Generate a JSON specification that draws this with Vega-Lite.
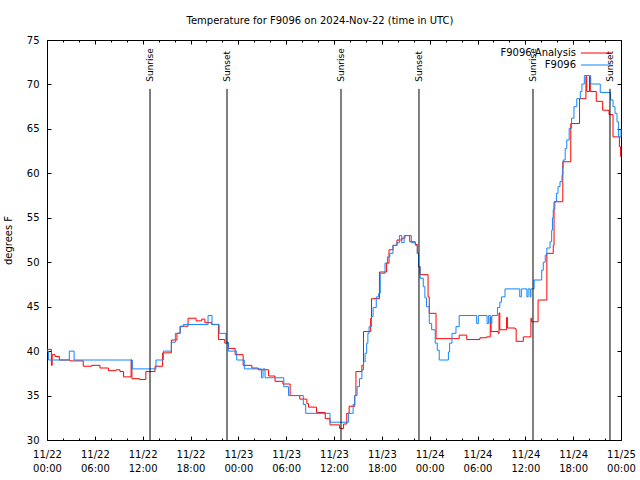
{
"$schema": "https://vega.github.io/schema/vega-lite/v6.json",
"width": 574, "height": 400,
"autosize": {"type": "none"},
"padding": {"left": 47, "top": 40, "right": 19, "bottom": 40},
"background": "white",
"config": {
  "font": "DejaVu Sans",
  "view": {"stroke": "black", "strokeWidth": 1},
  "axis": {"labelFont": "DejaVu Sans", "labelFontSize": 10, "labelColor": "black", "tickColor": "black", "tickWidth": 1, "domain": false, "grid": false, "titleFont": "DejaVu Sans", "titleFontSize": 10, "titleFontWeight": "normal", "titleColor": "black", "labelOverlap": false, "labelFlush": false, "labelBound": false}
},
"title": {"text": "Temperature for F9096 on 2024-Nov-22 (time in UTC)", "font": "DejaVu Sans", "fontSize": 10, "fontWeight": "normal", "color": "black", "anchor": "middle", "dx": -14, "offset": 1, "baseline": "alphabetic"},
"datasets": {
  "temp": [
    {"h":0,"t":40.2,"s":"F9096 Analysis"},{"h":0.55,"t":38.4,"s":"F9096 Analysis"},{"h":0.65,"t":39.6,"s":"F9096 Analysis"},{"h":1.0,"t":39.4,"s":"F9096 Analysis"},{"h":1.55,"t":39.0,"s":"F9096 Analysis"},{"h":2.9,"t":38.9,"s":"F9096 Analysis"},{"h":4.55,"t":38.3,"s":"F9096 Analysis"},{"h":5.6,"t":38.4,"s":"F9096 Analysis"},{"h":6.65,"t":38.1,"s":"F9096 Analysis"},{"h":7.7,"t":37.8,"s":"F9096 Analysis"},{"h":8.65,"t":37.9,"s":"F9096 Analysis"},{"h":9.15,"t":37.7,"s":"F9096 Analysis"},{"h":9.6,"t":37.1,"s":"F9096 Analysis"},{"h":10.55,"t":39.0,"s":"F9096 Analysis"},{"h":10.65,"t":36.9,"s":"F9096 Analysis"},{"h":11.6,"t":36.8,"s":"F9096 Analysis"},{"h":12.4,"t":37.7,"s":"F9096 Analysis"},{"h":13.55,"t":38.3,"s":"F9096 Analysis"},{"h":14.5,"t":39.8,"s":"F9096 Analysis"},{"h":15.6,"t":41.25,"s":"F9096 Analysis"},{"h":16.3,"t":42.0,"s":"F9096 Analysis"},{"h":16.7,"t":42.8,"s":"F9096 Analysis"},{"h":17.7,"t":43.7,"s":"F9096 Analysis"},{"h":18.7,"t":43.4,"s":"F9096 Analysis"},{"h":19.4,"t":43.6,"s":"F9096 Analysis"},{"h":19.8,"t":43.2,"s":"F9096 Analysis"},{"h":20.65,"t":43.0,"s":"F9096 Analysis"},{"h":21.5,"t":41.3,"s":"F9096 Analysis"},{"h":22.3,"t":40.9,"s":"F9096 Analysis"},{"h":22.75,"t":40.3,"s":"F9096 Analysis"},{"h":23.6,"t":39.6,"s":"F9096 Analysis"},{"h":24.6,"t":38.4,"s":"F9096 Analysis"},{"h":25.7,"t":38.1,"s":"F9096 Analysis"},{"h":26.5,"t":37.9,"s":"F9096 Analysis"},{"h":27.8,"t":37.2,"s":"F9096 Analysis"},{"h":28.6,"t":36.6,"s":"F9096 Analysis"},{"h":29.6,"t":36.3,"s":"F9096 Analysis"},{"h":30.5,"t":35.0,"s":"F9096 Analysis"},{"h":31.7,"t":34.6,"s":"F9096 Analysis"},{"h":32.6,"t":34.1,"s":"F9096 Analysis"},{"h":32.8,"t":33.7,"s":"F9096 Analysis"},{"h":33.8,"t":33.1,"s":"F9096 Analysis"},{"h":34.9,"t":32.4,"s":"F9096 Analysis"},{"h":35.5,"t":31.7,"s":"F9096 Analysis"},{"h":36.7,"t":31.3,"s":"F9096 Analysis"},{"h":37.2,"t":31.8,"s":"F9096 Analysis"},{"h":37.6,"t":33.0,"s":"F9096 Analysis"},{"h":37.9,"t":33.8,"s":"F9096 Analysis"},{"h":38.6,"t":35.0,"s":"F9096 Analysis"},{"h":38.75,"t":37.7,"s":"F9096 Analysis"},{"h":39.5,"t":38.4,"s":"F9096 Analysis"},{"h":39.7,"t":42.2,"s":"F9096 Analysis"},{"h":40.6,"t":43.7,"s":"F9096 Analysis"},{"h":40.7,"t":45.9,"s":"F9096 Analysis"},{"h":41.7,"t":48.9,"s":"F9096 Analysis"},{"h":42.6,"t":49.9,"s":"F9096 Analysis"},{"h":42.9,"t":51.4,"s":"F9096 Analysis"},{"h":43.4,"t":51.9,"s":"F9096 Analysis"},{"h":43.9,"t":52.5,"s":"F9096 Analysis"},{"h":44.5,"t":52.7,"s":"F9096 Analysis"},{"h":44.9,"t":53.0,"s":"F9096 Analysis"},{"h":45.5,"t":52.3,"s":"F9096 Analysis"},{"h":46.2,"t":52.0,"s":"F9096 Analysis"},{"h":46.45,"t":51.0,"s":"F9096 Analysis"},{"h":46.6,"t":49.5,"s":"F9096 Analysis"},{"h":46.8,"t":48.6,"s":"F9096 Analysis"},{"h":47.8,"t":46.1,"s":"F9096 Analysis"},{"h":47.95,"t":44.25,"s":"F9096 Analysis"},{"h":48.8,"t":41.4,"s":"F9096 Analysis"},{"h":51.7,"t":41.8,"s":"F9096 Analysis"},{"h":52.65,"t":41.3,"s":"F9096 Analysis"},{"h":54.3,"t":41.5,"s":"F9096 Analysis"},{"h":55.15,"t":41.6,"s":"F9096 Analysis"},{"h":55.6,"t":43.8,"s":"F9096 Analysis"},{"h":55.7,"t":42.2,"s":"F9096 Analysis"},{"h":56.6,"t":42.0,"s":"F9096 Analysis"},{"h":56.7,"t":44.3,"s":"F9096 Analysis"},{"h":56.8,"t":42.4,"s":"F9096 Analysis"},{"h":57.65,"t":43.8,"s":"F9096 Analysis"},{"h":57.75,"t":42.6,"s":"F9096 Analysis"},{"h":58.7,"t":42.5,"s":"F9096 Analysis"},{"h":58.85,"t":41.1,"s":"F9096 Analysis"},{"h":59.75,"t":41.6,"s":"F9096 Analysis"},{"h":60.7,"t":43.7,"s":"F9096 Analysis"},{"h":60.8,"t":43.3,"s":"F9096 Analysis"},{"h":61.6,"t":45.75,"s":"F9096 Analysis"},{"h":62.7,"t":51.0,"s":"F9096 Analysis"},{"h":63.5,"t":51.9,"s":"F9096 Analysis"},{"h":63.6,"t":56.8,"s":"F9096 Analysis"},{"h":64.7,"t":61.3,"s":"F9096 Analysis"},{"h":65.7,"t":65.6,"s":"F9096 Analysis"},{"h":66.8,"t":68.4,"s":"F9096 Analysis"},{"h":67.6,"t":70.9,"s":"F9096 Analysis"},{"h":67.7,"t":69.2,"s":"F9096 Analysis"},{"h":68.05,"t":70.9,"s":"F9096 Analysis"},{"h":68.15,"t":69.2,"s":"F9096 Analysis"},{"h":68.9,"t":68.1,"s":"F9096 Analysis"},{"h":69.7,"t":67.1,"s":"F9096 Analysis"},{"h":70.5,"t":66.6,"s":"F9096 Analysis"},{"h":71.0,"t":64.1,"s":"F9096 Analysis"},{"h":71.8,"t":63.0,"s":"F9096 Analysis"},{"h":71.95,"t":61.9,"s":"F9096 Analysis"},{"h":72,"t":61.9,"s":"F9096 Analysis"},
    {"h":0,"t":40.0,"s":"F9096"},{"h":0.2,"t":39.0,"s":"F9096"},{"h":2.8,"t":40.0,"s":"F9096"},{"h":3.4,"t":39.0,"s":"F9096"},{"h":10.7,"t":38.0,"s":"F9096"},{"h":13.67,"t":39.0,"s":"F9096"},{"h":14.6,"t":40.0,"s":"F9096"},{"h":15.6,"t":41.0,"s":"F9096"},{"h":16.1,"t":42.0,"s":"F9096"},{"h":16.7,"t":42.75,"s":"F9096"},{"h":17.1,"t":43.0,"s":"F9096"},{"h":20.2,"t":44.0,"s":"F9096"},{"h":20.7,"t":43.0,"s":"F9096"},{"h":21.6,"t":42.0,"s":"F9096"},{"h":22.45,"t":41.0,"s":"F9096"},{"h":22.75,"t":40.0,"s":"F9096"},{"h":23.8,"t":39.0,"s":"F9096"},{"h":24.75,"t":38.0,"s":"F9096"},{"h":26.9,"t":37.0,"s":"F9096"},{"h":27.1,"t":38.0,"s":"F9096"},{"h":27.35,"t":37.0,"s":"F9096"},{"h":29.7,"t":36.0,"s":"F9096"},{"h":30.3,"t":35.0,"s":"F9096"},{"h":32.15,"t":34.0,"s":"F9096"},{"h":32.45,"t":33.0,"s":"F9096"},{"h":35.5,"t":32.0,"s":"F9096"},{"h":37.8,"t":33.0,"s":"F9096"},{"h":38.4,"t":34.0,"s":"F9096"},{"h":38.6,"t":35.0,"s":"F9096"},{"h":38.9,"t":36.0,"s":"F9096"},{"h":39.2,"t":36.9,"s":"F9096"},{"h":39.5,"t":37.9,"s":"F9096"},{"h":39.7,"t":38.8,"s":"F9096"},{"h":39.9,"t":39.75,"s":"F9096"},{"h":40.1,"t":40.9,"s":"F9096"},{"h":40.25,"t":42.0,"s":"F9096"},{"h":40.4,"t":42.75,"s":"F9096"},{"h":40.7,"t":43.9,"s":"F9096"},{"h":40.9,"t":44.9,"s":"F9096"},{"h":41.3,"t":46.1,"s":"F9096"},{"h":41.6,"t":46.5,"s":"F9096"},{"h":41.8,"t":48.75,"s":"F9096"},{"h":42.4,"t":49.9,"s":"F9096"},{"h":42.7,"t":50.6,"s":"F9096"},{"h":43.0,"t":51.0,"s":"F9096"},{"h":43.4,"t":51.9,"s":"F9096"},{"h":43.9,"t":52.2,"s":"F9096"},{"h":44.2,"t":53.0,"s":"F9096"},{"h":44.5,"t":52.2,"s":"F9096"},{"h":44.8,"t":53.0,"s":"F9096"},{"h":45.7,"t":52.2,"s":"F9096"},{"h":46.2,"t":51.9,"s":"F9096"},{"h":46.45,"t":51.0,"s":"F9096"},{"h":46.6,"t":49.5,"s":"F9096"},{"h":46.8,"t":48.2,"s":"F9096"},{"h":47.2,"t":47.25,"s":"F9096"},{"h":47.4,"t":46.0,"s":"F9096"},{"h":47.6,"t":45.0,"s":"F9096"},{"h":47.95,"t":43.1,"s":"F9096"},{"h":48.25,"t":42.4,"s":"F9096"},{"h":48.7,"t":40.9,"s":"F9096"},{"h":48.95,"t":40.1,"s":"F9096"},{"h":49.2,"t":39.0,"s":"F9096"},{"h":50.35,"t":39.9,"s":"F9096"},{"h":50.5,"t":40.9,"s":"F9096"},{"h":50.8,"t":42.0,"s":"F9096"},{"h":51.3,"t":42.75,"s":"F9096"},{"h":51.7,"t":44.0,"s":"F9096"},{"h":53.9,"t":43.1,"s":"F9096"},{"h":54.1,"t":44.0,"s":"F9096"},{"h":55.2,"t":43.1,"s":"F9096"},{"h":55.4,"t":44.0,"s":"F9096"},{"h":55.6,"t":43.1,"s":"F9096"},{"h":55.8,"t":44.0,"s":"F9096"},{"h":56.5,"t":44.9,"s":"F9096"},{"h":56.8,"t":45.5,"s":"F9096"},{"h":57.0,"t":46.1,"s":"F9096"},{"h":57.45,"t":47.0,"s":"F9096"},{"h":59.3,"t":46.1,"s":"F9096"},{"h":59.5,"t":47.0,"s":"F9096"},{"h":60.2,"t":46.1,"s":"F9096"},{"h":60.35,"t":47.0,"s":"F9096"},{"h":60.6,"t":46.1,"s":"F9096"},{"h":60.7,"t":47.0,"s":"F9096"},{"h":61.1,"t":48.0,"s":"F9096"},{"h":62.05,"t":49.1,"s":"F9096"},{"h":62.25,"t":50.0,"s":"F9096"},{"h":62.5,"t":50.8,"s":"F9096"},{"h":62.7,"t":51.6,"s":"F9096"},{"h":63.1,"t":52.3,"s":"F9096"},{"h":63.3,"t":53.6,"s":"F9096"},{"h":63.4,"t":55.0,"s":"F9096"},{"h":63.5,"t":55.9,"s":"F9096"},{"h":63.7,"t":56.8,"s":"F9096"},{"h":63.9,"t":57.75,"s":"F9096"},{"h":64.1,"t":58.5,"s":"F9096"},{"h":64.35,"t":59.06,"s":"F9096"},{"h":64.6,"t":59.8,"s":"F9096"},{"h":64.7,"t":60.6,"s":"F9096"},{"h":64.75,"t":61.5,"s":"F9096"},{"h":65.0,"t":62.8,"s":"F9096"},{"h":65.2,"t":63.75,"s":"F9096"},{"h":65.5,"t":65.06,"s":"F9096"},{"h":65.8,"t":66.2,"s":"F9096"},{"h":66.1,"t":67.5,"s":"F9096"},{"h":66.45,"t":68.4,"s":"F9096"},{"h":66.9,"t":69.2,"s":"F9096"},{"h":67.1,"t":70.05,"s":"F9096"},{"h":67.4,"t":71.0,"s":"F9096"},{"h":68.2,"t":70.05,"s":"F9096"},{"h":69.4,"t":69.1,"s":"F9096"},{"h":70.7,"t":68.25,"s":"F9096"},{"h":71.0,"t":67.5,"s":"F9096"},{"h":71.25,"t":66.75,"s":"F9096"},{"h":71.5,"t":65.8,"s":"F9096"},{"h":71.7,"t":64.1,"s":"F9096"},{"h":72,"t":65.0,"s":"F9096"}
  ],
  "sun": [
    {"h":12.92,"ev":"Sunrise"},{"h":22.58,"ev":"Sunset"},{"h":36.88,"ev":"Sunrise"},{"h":46.66,"ev":"Sunset"},{"h":60.96,"ev":"Sunrise"},{"h":70.62,"ev":"Sunset"}
  ]
},
"layer": [
  {
    "data": {"name": "temp"},
    "transform": [{"filter": "datum.s == 'F9096 Analysis'"}],
    "mark": {"type": "line", "interpolate": "step-after", "strokeWidth": 1},
    "encoding": {
      "x": {"field": "h", "type": "quantitative", "scale": {"domain": [0, 72], "nice": false, "zero": false},
            "axis": {"orient": "bottom", "values": [0,6,12,18,24,30,36,42,48,54,60,66,72], "tickSize": -4, "labelPadding": 13, "labelBaseline": "top", "labelLineHeight": 14,
                     "labelExpr": "['11/' + (22 + floor(datum.value / 24)), (datum.value % 24 < 10 ? '0' : '') + (datum.value % 24) + ':00']", "title": null}},
      "y": {"field": "t", "type": "quantitative", "scale": {"domain": [30, 75], "nice": false, "zero": false},
            "axis": {"orient": "left", "values": [30,35,40,45,50,55,60,65,70,75], "tickSize": -4, "labelPadding": 12, "title": "degrees F", "titleX": -39, "titleY": 200, "titleAngle": 270, "titleBaseline": "middle", "titleAlign": "center"}},
      "color": {"field": "s", "type": "nominal", "scale": {"domain": ["F9096 Analysis", "F9096"], "range": ["#ff0000", "#0f87ff"]},
                "legend": {"orient": "none", "legendX": 544, "legendY": 8, "title": null, "padding": 0, "labelFont": "DejaVu Sans", "labelFontSize": 10, "labelColor": "black", "labelAlign": "right", "labelBaseline": "middle", "labelOffset": -25, "symbolType": "M-5,0H5", "symbolSize": 36, "symbolStrokeWidth": 1, "rowPadding": 2}}
    }
  },
  {
    "data": {"name": "temp"},
    "transform": [{"filter": "datum.s == 'F9096'"}],
    "mark": {"type": "line", "interpolate": "step-after", "strokeWidth": 1},
    "encoding": {
      "x": {"field": "h", "type": "quantitative", "axis": {"orient": "bottom", "values": [2,4,8,10,14,16,20,22,26,28,32,34,38,40,44,46,50,52,56,58,62,64,68,70], "tickSize": -2, "labels": false, "title": null}},
      "y": {"field": "t", "type": "quantitative", "axis": {"orient": "right", "values": [30,35,40,45,50,55,60,65,70,75], "tickSize": -4, "labels": false, "title": null}},
      "color": {"field": "s", "type": "nominal"}
    }
  },
  {
    "data": {"name": "sun"},
    "mark": {"type": "rule", "color": "black", "strokeWidth": 1},
    "encoding": {
      "x": {"field": "h", "type": "quantitative", "axis": {"orient": "top", "values": [0,6,12,18,24,30,36,42,48,54,60,66,72], "tickSize": -4, "labels": false, "title": null}},
      "y": {"datum": 69.5, "type": "quantitative", "axis": null},
      "y2": {"datum": 30}
    }
  },
  {
    "data": {"name": "sun"},
    "mark": {"type": "text", "angle": 270, "align": "left", "baseline": "middle", "font": "DejaVu Sans", "fontSize": 9, "color": "black"},
    "encoding": {
      "x": {"field": "h", "type": "quantitative", "axis": {"orient": "top", "values": [2,4,8,10,14,16,20,22,26,28,32,34,38,40,44,46,50,52,56,58,62,64,68,70], "tickSize": -2, "labels": false, "title": null}},
      "y": {"datum": 70.3, "type": "quantitative", "axis": null},
      "text": {"field": "ev"}
    }
  }
],
"resolve": {"axis": {"x": "independent", "y": "independent"}}
}
